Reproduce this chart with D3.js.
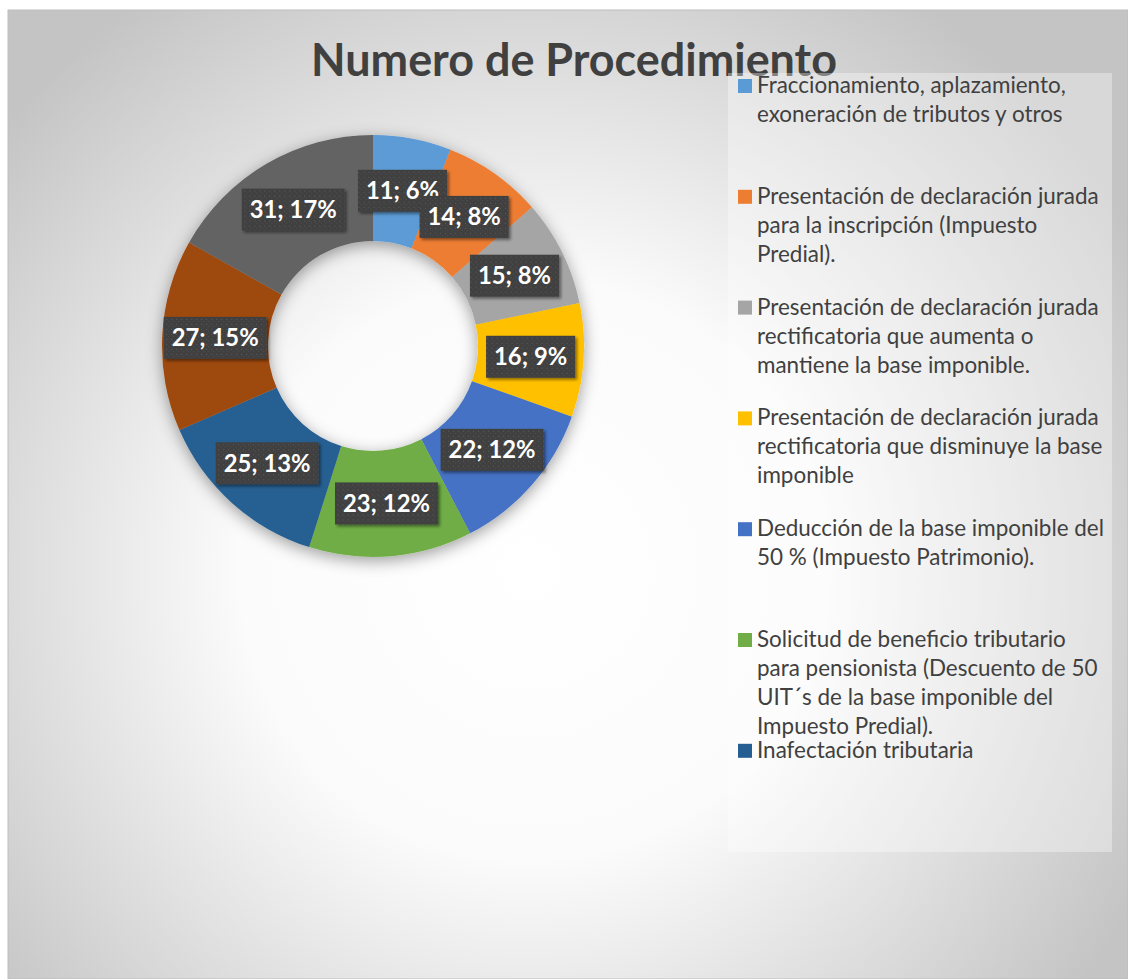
<!DOCTYPE html>
<html>
<head>
<meta charset="utf-8">
<script src="https://cdn.jsdelivr.net/npm/d3@7"></script>
<style>
  body { margin: 0; background: #ffffff; }
  svg { display: block; }
</style>
</head>
<body>
<svg id="chart"></svg>
<script>
// values of the slices, clockwise from 12 o'clock
const values = [11, 14, 15, 16, 22, 23, 25, 27, 31];
// percentages as printed on the labels
const percents = [6, 8, 8, 9, 12, 12, 13, 15, 17];
const colors = ['#5B9BD5', '#ED7D31', '#A5A5A5', '#FFC000', '#4472C4', '#70AD47', '#255E91', '#9E480E', '#636363'];
// legend entries (only the first 7 fit in the legend box)
const categories = [
    ['Fraccionamiento, aplazamiento,', 'exoneración de tributos y otros'],
    ['Presentación de declaración jurada', 'para la inscripción (Impuesto', 'Predial).'],
    ['Presentación de declaración jurada', 'rectificatoria que aumenta o', 'mantiene la base imponible.'],
    ['Presentación de declaración jurada', 'rectificatoria que disminuye la base', 'imponible'],
    ['Deducción de la base imponible del', '50 % (Impuesto Patrimonio).'],
    ['Solicitud de beneficio tributario', 'para pensionista (Descuento de 50', 'UIT´s de la base imponible del', 'Impuesto Predial).'],
    ['Inafectación tributaria']
];
const title = 'Numero de Procedimiento';

const width = 1128, height = 979;
const cx = 373, cy = 346, outerR = 211, innerR = 105;

const svg = d3.select('#chart')
    .attr('width', width)
    .attr('height', height);

const defs = svg.append('defs');

const bg = defs.append('radialGradient')
    .attr('id', 'bg')
    .attr('gradientUnits', 'userSpaceOnUse')
    .attr('cx', 530).attr('cy', 570).attr('r', 690);
bg.append('stop').attr('offset', 0).attr('stop-color', '#ffffff');
bg.append('stop').attr('offset', 0.42).attr('stop-color', '#fbfbfb');
bg.append('stop').attr('offset', 1).attr('stop-color', '#c4c4c4');

const ringShadow = defs.append('filter').attr('id', 'ringShadow')
    .attr('x', '-25%').attr('y', '-25%').attr('width', '150%').attr('height', '150%');
ringShadow.append('feDropShadow')
    .attr('dx', 0).attr('dy', 4).attr('stdDeviation', 8)
    .attr('flood-color', '#000').attr('flood-opacity', 0.38);

const boxShadow = defs.append('filter').attr('id', 'boxShadow')
    .attr('x', '-20%').attr('y', '-30%').attr('width', '150%').attr('height', '170%');
boxShadow.append('feDropShadow')
    .attr('dx', 2).attr('dy', 2).attr('stdDeviation', 1.5)
    .attr('flood-color', '#000').attr('flood-opacity', 0.45);

const dots = defs.append('pattern')
    .attr('id', 'dots')
    .attr('patternUnits', 'userSpaceOnUse')
    .attr('width', 5).attr('height', 5);
dots.append('rect').attr('width', 5).attr('height', 5).attr('fill', '#404040');
dots.append('rect').attr('x', 1).attr('y', 1).attr('width', 1).attr('height', 1).attr('fill', '#5c5c5c');
dots.append('rect').attr('x', 3).attr('y', 3).attr('width', 1).attr('height', 1).attr('fill', '#4f4f4f');

// chart area
svg.append('rect')
    .attr('x', 8).attr('y', 10)
    .attr('width', width - 8).attr('height', height - 10)
    .attr('fill', 'url(#bg)')
    .attr('stroke', '#bdbdbd').attr('stroke-width', 1);

// title, fitted to the width it has in the picture
const titleText = svg.append('text')
    .attr('x', 574).attr('y', 76)
    .attr('text-anchor', 'middle')
    .attr('font-family', 'Lato, sans-serif')
    .attr('font-weight', 'bold')
    .attr('font-size', 44)
    .attr('fill', '#404040')
    .text(title);
const tw = titleText.node().getComputedTextLength();
titleText.attr('font-size', 44 * 526 / tw);

// legend box
svg.append('rect')
    .attr('x', 728).attr('y', 73)
    .attr('width', 384).attr('height', 779)
    .attr('fill', '#ffffff').attr('fill-opacity', 0.35);

const pie = d3.pie().sort(null).value(d => d);
const arc = d3.arc().innerRadius(innerR).outerRadius(outerR);
const labelArc = d3.arc().innerRadius((innerR + outerR) / 2).outerRadius((innerR + outerR) / 2);

const g = svg.append('g')
    .attr('transform', `translate(${cx}, ${cy})`);

g.append('g')
    .attr('filter', 'url(#ringShadow)')
    .selectAll('path')
    .data(pie(values))
    .enter()
    .append('path')
    .attr('d', arc)
    .attr('fill', (d, i) => colors[i])
    .attr('stroke', 'none');

// data labels
const labels = g.selectAll('.label')
    .data(pie(values))
    .enter()
    .append('g')
    .attr('class', 'label')
    .attr('transform', d => 'translate(' + labelArc.centroid(d) + ')');

const labelSize = 23;
labels.append('text')
    .attr('text-anchor', 'middle')
    .attr('dy', '0.36em')
    .attr('font-family', 'Lato, sans-serif')
    .attr('font-weight', 'bold')
    .attr('font-size', labelSize)
    .attr('fill', '#ffffff')
    .text((d, i) => d.data + '; ' + percents[i] + '%');

// fit label font so "31; 17%" has the width it has in the picture
let ref = labels.filter((d, i) => i === 8).select('text').node().getComputedTextLength();
const fitSize = labelSize * 87 / ref;
labels.select('text').attr('font-size', fitSize);

labels.each(function() {
    const t = d3.select(this).select('text');
    const w = t.node().getComputedTextLength();
    d3.select(this).insert('rect', 'text')
        .attr('x', -w / 2 - 8).attr('y', -21)
        .attr('width', w + 16).attr('height', 42)
        .attr('fill', 'url(#dots)')
        .attr('filter', 'url(#boxShadow)');
});

// legend
const legend = svg.append('g');
const items = legend.selectAll('.item')
    .data(categories)
    .enter()
    .append('g')
    .attr('class', 'item')
    .attr('transform', (d, i) => `translate(738, ${93 + i * 110.8})`);

items.append('rect')
    .attr('x', 0).attr('y', -14)
    .attr('width', 14).attr('height', 14)
    .attr('fill', (d, i) => colors[i]);

const legendText = items.append('text')
    .attr('x', 19)
    .attr('font-family', 'Lato, sans-serif')
    .attr('font-size', 20)
    .attr('fill', '#404040');

legendText.selectAll('tspan')
    .data(d => d)
    .enter()
    .append('tspan')
    .attr('x', 19)
    .attr('dy', (d, i) => i === 0 ? 0 : 29)
    .text(d => d);

// fit legend font so "Presentación de declaración jurada" is 342px wide
const refSpan = items.filter((d, i) => i === 1).select('tspan').node();
const lw = refSpan.getComputedTextLength();
legendText.attr('font-size', 20 * 342 / lw);
</script>
</body>
</html>
